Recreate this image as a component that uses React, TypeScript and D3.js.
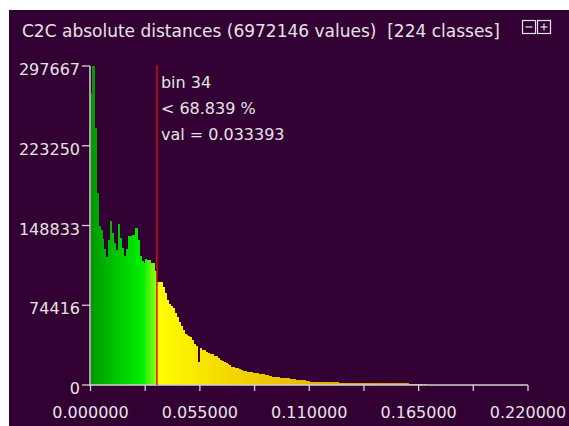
import React, { useEffect, useRef } from 'react';
import * as d3 from 'd3';

const titleText = 'C2C absolute distances (6972146 values)  [224 classes]';
const classCount = 224;
const xMax = 0.22;

// counts per class
const binCounts = [
  272460, 297667, 239800, 179150, 148360, 144630, 136230, 126900, 119430, 135300,
  153030, 141830, 132500, 125970, 150230, 137170, 127830, 120370, 126900, 139030,
  139030, 139960, 139960, 146500, 135300, 120370, 115700, 113840, 117570, 116640,
  116640, 113840, 113840, 106370, 96110, 96110, 96110, 91440, 85840, 79310,
  75580, 73710, 71850, 67180, 63450, 58780, 55050, 51320, 47590, 46650,
  45720, 44790, 41990, 38260, 36390, 21460, 34520, 32660, 32660, 30790,
  29860, 28930, 28930, 27060, 27060, 25190, 23330, 22390, 21460, 20530,
  20060, 18660, 17260, 16800, 16140, 15860, 14650, 14000, 13340, 12600,
  12410, 12130, 11850, 11480, 11200, 10920, 10730, 9980, 9800, 9330,
  9140, 8400, 8400, 7460, 7180, 7180, 7000, 6810, 6250, 6250,
  6070, 6070, 5600, 5600, 5410, 5130, 4670, 4670, 4480, 4200,
  3730, 3270, 3100, 3050, 3000, 2950, 2900, 2850, 2800, 2750,
  2650, 2600, 2550, 2500, 2450, 2400, 2350, 2300, 2250, 2200,
  2150, 2100, 2080, 2050, 2000, 1980, 1950, 1900, 1850, 1820,
  1800, 1650, 1620, 1600, 1580, 1560, 1540, 1520, 1500, 1480,
  1460, 1440, 1420, 1900, 1880, 1860, 1850, 1830, 1800, 1780,
  1760, 1740, 1700, 600, 580, 560, 540, 520, 500, 480,
  460, 1100, 0, 0, 0, 0, 0, 0, 0, 0,
  0, 0, 0, 0, 0, 0, 0, 0, 0, 0,
  0, 0, 0, 0, 0, 0, 0, 0, 0, 0,
  0, 0, 0, 0, 0, 0, 0, 0, 0, 0,
  0, 0, 0, 0, 0, 0, 0, 0, 0, 0,
  0, 0, 0, 0,
];

const yTicks = [0, 74416, 148833, 223250, 297667];
const xMajorTicks = [0, 0.055, 0.11, 0.165, 0.22];
const xMinorTicks = [0.0275, 0.0825, 0.1375, 0.1925];

const selectedBin = 34;
const infoLines = ['bin 34', '< 68.839 %', 'val = 0.033393'];

export default function App() {
  const ref = useRef<SVGSVGElement>(null);

  useEffect(() => {
    if (!ref.current) return;
    const svg = d3.select(ref.current);
    svg.selectAll('*').remove();

    const W = 569, H = 426;
    const font = 'DejaVu Sans, sans-serif';
    const txt = '#e4e4e4';
    const axisCol = '#d2d2d2';

    svg.append('rect').attr('width', W).attr('height', H).attr('fill', '#ffffff');
    svg.append('rect').attr('x', 9).attr('y', 10).attr('width', W - 9).attr('height', H - 10).attr('fill', '#330033');

    const x = d3.scaleLinear().domain([0, xMax]).range([90.5, 528]);
    const y = d3.scaleLinear().domain([0, d3.max(binCounts) as number]).range([385, 66]);
    const bw = xMax / classCount;

    const color = d3.scaleLinear<string>()
      .domain([0, 0.012, 0.026, 0.0333, 0.03339, 0.06, 0.1, 0.14, 0.17])
      .range(['#009a00', '#00c400', '#00f000', '#a8ff10', '#ffff00', '#f6e000', '#eabf00', '#e4a000', '#e48040'])
      .clamp(true);

    // bars
    svg.append('g')
      .attr('shape-rendering', 'crispEdges')
      .selectAll('rect')
      .data(binCounts)
      .join('rect')
      .attr('x', (d, i) => x(i * bw))
      .attr('width', (d, i) => x((i + 1) * bw) - x(i * bw) + 0.3)
      .attr('y', d => y(d))
      .attr('height', d => y(0) - y(d))
      .attr('fill', (d, i) => color(i * bw));

    // title
    svg.append('text')
      .attr('x', 22).attr('y', 37)
      .style('white-space', 'pre')
      .attr('font-family', font).attr('font-size', 17)
      .attr('fill', txt)
      .text(titleText);

    // minus / plus buttons
    const btn = svg.append('g').attr('stroke', txt).attr('stroke-width', 1.2).attr('fill', 'none');
    [522, 537].forEach((bx, k) => {
      btn.append('rect').attr('x', bx + 0.5).attr('y', 20.5).attr('width', 13).attr('height', 13);
      btn.append('line').attr('x1', bx + 3.5).attr('x2', bx + 10.5).attr('y1', 27).attr('y2', 27);
      if (k === 1) btn.append('line').attr('x1', bx + 7).attr('x2', bx + 7).attr('y1', 23.5).attr('y2', 30.5);
    });

    // y axis
    const ya = svg.append('g').attr('font-family', font).attr('font-size', 16);
    ya.append('line')
      .attr('x1', 90).attr('x2', 90).attr('y1', y(yTicks[yTicks.length - 1])).attr('y2', y(0) + 1)
      .attr('stroke', axisCol).attr('stroke-width', 1.5);
    yTicks.forEach(t => {
      ya.append('line').attr('x1', 82).attr('x2', 90).attr('y1', y(t)).attr('y2', y(t))
        .attr('stroke', axisCol).attr('stroke-width', 1.3);
      ya.append('text').attr('x', 80).attr('y', y(t) + 9).attr('text-anchor', 'end')
        .attr('fill', txt).text(String(t));
    });

    // x axis
    const xa = svg.append('g').attr('font-family', font).attr('font-size', 16);
    xa.append('line').attr('x1', 89).attr('x2', x(xMax)).attr('y1', 385).attr('y2', 385)
      .attr('stroke', axisCol).attr('stroke-width', 1.5);
    [...xMajorTicks, ...xMinorTicks].forEach(t => {
      xa.append('line').attr('x1', x(t)).attr('x2', x(t)).attr('y1', 385).attr('y2', 391)
        .attr('stroke', axisCol).attr('stroke-width', 1.3);
    });
    xMajorTicks.forEach(t => {
      xa.append('text').attr('x', x(t)).attr('y', 418).attr('text-anchor', 'middle')
        .attr('fill', txt).text(t.toFixed(6));
    });

    // selected class marker
    const sx = x(selectedBin * bw);
    svg.append('line').attr('x1', sx).attr('x2', sx).attr('y1', 65).attr('y2', 385)
      .attr('stroke', '#d01010').attr('stroke-width', 1.5);
    infoLines.forEach((s, k) => {
      svg.append('text').attr('x', sx + 4).attr('y', 88 + k * 26)
        .attr('font-family', font).attr('font-size', 16).attr('fill', txt).text(s);
    });
  }, []);

  return (
    <svg ref={ref} width={569} height={426}
      style={{ position: 'absolute', left: 0, top: 0, display: 'block' }} />
  );
}
